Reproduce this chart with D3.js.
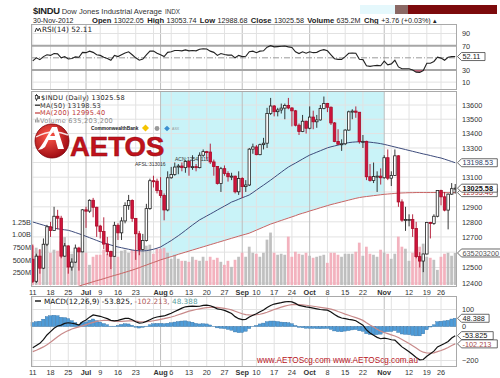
<!DOCTYPE html>
<html>
<head>
<meta charset="utf-8">
<script src="https://cdn.jsdelivr.net/npm/d3@7"></script>
<style>
  body { margin: 0; background: #fff; }
  svg { display: block; font-family: "Liberation Sans", Arial, sans-serif; }
</style>
</head>
<body>
<div id="chart"></div>
<script>
// Layout constants
const WIDTH = 500;
const HEIGHT = 378;
const PLOT = { left: 31, right: 457 };
const RSI_BOX = { top: 24, bottom: 89 };
const PRICE_BOX = { top: 91, bottom: 286 };
const MACD_BOX = { top: 296, bottom: 366 };
const MONO = '"DejaVu Sans", Verdana, sans-serif';

// Trading days shown (2012, mm-dd)
const dates = [
  '06-11','06-12','06-13','06-14','06-15','06-18','06-19','06-20','06-21','06-22',
  '06-25','06-26','06-27','06-28','06-29','07-02','07-03','07-05','07-06','07-09',
  '07-10','07-11','07-12','07-13','07-16','07-17','07-18','07-19','07-20','07-23',
  '07-24','07-25','07-26','07-27','07-30','07-31','08-01','08-02','08-03','08-06',
  '08-07','08-08','08-09','08-10','08-13','08-14','08-15','08-16','08-17','08-20',
  '08-21','08-22','08-23','08-24','08-27','08-28','08-29','08-30','08-31','09-04',
  '09-05','09-06','09-07','09-10','09-11','09-12','09-13','09-14','09-17','09-18',
  '09-19','09-20','09-21','09-24','09-25','09-26','09-27','09-28','10-01','10-02',
  '10-03','10-04','10-05','10-08','10-09','10-10','10-11','10-12','10-15','10-16',
  '10-17','10-18','10-19','10-22','10-23','10-24','10-25','10-26','10-31','11-01',
  '11-02','11-05','11-06','11-07','11-08','11-09','11-12','11-13','11-14','11-15',
  '11-16','11-19','11-20','11-21','11-23','11-26','11-27','11-28','11-29','11-30'];

const opens = [
  12554,12411,12574,12496,12652,12767,12742,12837,12824,12574,
  12641,12503,12535,12627,12602,12880,12871,12944,12897,12772,
  12736,12653,12605,12573,12777,12727,12806,12909,12943,12823,
  12721,12617,12676,12888,13076,13073,13009,12976,12879,13096,
  13118,13169,13176,13165,13208,13169,13172,13165,13250,13275,
  13272,13204,13173,13057,13158,13125,13103,13107,13001,13091,
  13036,13047,13292,13307,13254,13323,13333,13540,13593,13553,
  13565,13578,13597,13579,13559,13458,13414,13486,13437,13515,
  13482,13495,13575,13610,13584,13474,13345,13326,13329,13424,
  13552,13557,13549,13344,13346,13103,13077,13104,13107,13096,
  13233,13093,13112,13246,12933,12811,12815,12815,12756,12571,
  12542,12588,12796,12789,12837,13010,12967,12878,12985,13022.05];

const highs = [
  12650,12590,12620,12690,12780,12800,12900,12880,12840,12660,
  12645,12560,12650,12635,12885,12900,12950,12960,12900,12780,
  12830,12700,12610,12800,12790,12830,12930,12980,12950,12825,
  12740,12720,12920,13090,13110,13090,13100,12990,13140,13170,
  13200,13190,13200,13215,13210,13250,13190,13270,13290,13280,
  13330,13220,13175,13170,13180,13140,13130,13110,13140,13100,
  13080,13300,13330,13320,13330,13370,13580,13650,13600,13580,
  13610,13610,13650,13585,13565,13470,13530,13490,13590,13560,
  13530,13600,13660,13615,13590,13480,13430,13360,13430,13560,
  13570,13590,13550,13390,13350,13190,13200,13140,13160,13250,
  13290,13140,13290,13250,12950,12900,12850,12850,12800,12600,
  12590,12800,12800,12850,13010,13015,13000,12990,13060,13053.74];

const lows = [
  12400,12400,12460,12490,12640,12700,12740,12750,12560,12570,
  12460,12480,12530,12480,12600,12760,12860,12830,12700,12690,
  12620,12580,12490,12570,12680,12680,12790,12880,12800,12550,
  12580,12610,12670,12880,13030,12990,12960,12810,12870,13090,
  13110,13120,13140,13130,13110,13150,13140,13160,13240,13220,
  13190,13110,13050,13000,13110,13070,13080,12990,12980,12960,
  13000,13040,13260,13250,13250,13290,13300,13530,13520,13520,
  13540,13500,13570,13450,13450,13390,13410,13400,13430,13430,
  13440,13490,13570,13550,13460,13340,13320,13280,13320,13420,
  13500,13510,13330,13300,13080,13070,13060,13000,13050,13090,
  13080,13040,13110,12900,12800,12740,12770,12700,12560,12500,
  12470,12585,12690,12780,12830,12910,12870,12750,12980,12988.68];

const closes = [
  12411,12574,12496,12652,12767,12742,12837,12824,12574,12641,
  12503,12535,12627,12602,12880,12871,12944,12897,12772,12736,
  12653,12605,12573,12777,12727,12806,12909,12943,12823,12721,
  12617,12676,12888,13076,13073,13009,12976,12879,13096,13118,
  13169,13176,13165,13208,13169,13172,13165,13250,13275,13272,
  13204,13173,13057,13158,13125,13103,13107,13001,13091,13036,
  13047,13292,13307,13254,13323,13333,13540,13593,13553,13565,
  13578,13597,13579,13559,13458,13414,13486,13437,13515,13482,
  13495,13575,13610,13584,13474,13345,13326,13329,13424,13552,
  13557,13549,13344,13346,13103,13077,13104,13107,13096,13233,
  13093,13112,13246,12933,12811,12815,12815,12756,12571,12542,
  12588,12796,12789,12837,13010,12967,12878,12985,13022,13025.58];

// volume in millions
const volumes = [
  780,740,700,760,1000,640,700,680,860,950,
  640,620,600,720,860,640,400,560,600,600,
  700,620,640,580,560,680,700,640,700,680,
  720,680,780,800,620,720,720,740,640,520,
  600,520,480,480,460,560,500,480,560,480,
  560,500,540,460,400,480,360,500,560,640,
  560,760,640,620,560,640,900,1040,640,600,
  620,600,960,560,660,620,600,640,580,540,
  560,580,600,440,640,640,600,560,620,620,
  620,660,840,580,760,620,600,560,700,640,
  620,520,620,960,760,720,480,640,700,760,
  820,560,540,500,300,560,620,640,580,635.2];

const ma50 = [
  12799,12792,12785,12778,12771,12764,12758,12754,12750,12747,
  12744,12737,12729,12721,12713,12704,12695,12686,12677,12668,
  12661,12654,12647,12640,12634,12629,12624,12619,12614,12611,
  12609,12608,12610,12614,12619,12626,12634,12648,12662,12676,
  12692,12708,12725,12743,12761,12779,12796,12813,12826,12839,
  12852,12865,12879,12892,12905,12918,12932,12941,12951,12961,
  12970,12980,12996,13013,13030,13046,13063,13080,13098,13116,
  13134,13152,13169,13183,13196,13210,13224,13238,13251,13261,
  13271,13281,13291,13301,13308,13314,13320,13326,13332,13337,
  13340,13342,13343,13343,13342,13340,13337,13334,13330,13325,
  13319,13313,13307,13301,13295,13289,13283,13277,13271,13265,
  13259,13254,13248,13242,13236,13231,13223,13215,13207,13198.53];

const ma200 = [
  12290,12297,12304,12311,12318,12325,12332,12339,12346,12353,
  12360,12366,12373,12380,12387,12394,12401,12408,12415,12421,
  12428,12435,12442,12449,12455,12462,12469,12476,12483,12491,
  12499,12508,12516,12525,12533,12541,12550,12557,12564,12571,
  12578,12586,12593,12600,12607,12614,12621,12628,12635,12642,
  12649,12656,12663,12670,12677,12684,12691,12698,12705,12712,
  12718,12725,12735,12745,12755,12765,12775,12785,12793,12801,
  12809,12817,12825,12833,12841,12850,12857,12864,12872,12879,
  12886,12894,12901,12908,12915,12921,12927,12933,12939,12945,
  12951,12957,12962,12966,12969,12972,12975,12978,12981,12984,
  12986,12988,12990,12992,12993,12994,12995,12995,12996,12996,
  12996,12996,12996,12996,12996,12996,12995,12995,12995,12995.40];

const rsi = [
  45,50,47,52,55,54,57,56.5,50,52,
  48,49,51.5,51,59,58.5,61,59,55,54,
  51,49,46,54,52,55,58,60,55,50,
  46,48,55,61,61,57.5,55,52,59,60,
  62,62,61.5,63,61.5,62,61.5,64,65,64.5,
  61,59,54,57,55.5,54.5,54.5,50,54,52,
  52.5,60,61,58.5,61,61.5,67.5,70,68,68.5,
  69,69.5,68,67,60,57,60,57.5,60,58.5,
  59,62,63.5,61.5,55,48.5,47.5,47.5,52,57.5,
  58,57.5,47.5,47,37,36,37,37.5,37,44.5,
  38.5,40,46,35,32,32,32,30,26.5,26,
  29,41,41,44,51,49.5,46,51,52,52.11];

const macd = [
  -125,-112,-99,-77,-50,-30,-10,3,8,18,
  22,19,15,9,28,38,55,68,64,60,
  53,46,36,33,36,42,48,48,40,28,
  20,22,30,40,50,56,60,62,70,78,
  88,98,108,116,118,120,118,119,124,126,
  122,114,104,100,95,86,76,58,46,40,
  42,56,66,75,87,97,112,124,132,136,
  140,145,147,145,136,124,120,115,112,108,
  104,100,98,96,85,70,58,50,46,42,
  39,34,20,8,-20,-38,-52,-64,-72,-68,
  -72,-78,-80,-100,-120,-134,-148,-165,-182,-196,
  -194,-175,-160,-145,-120,-110,-100,-88,-68,-53.825];

const signal = [
  -148,-140,-130,-120,-108,-93,-76,-60,-46,-34,
  -24,-15,-8,-2,4,11,18,24,30,34,
  36,36,34,31,30,30,32,33,33,32,
  29,27,28,30,34,38,42,46,51,56,
  62,69,76,83,90,95,100,104,108,111,
  113,113,112,110,107,103,98,90,82,75,
  70,68,67,69,72,77,84,92,100,107,
  114,120,125,129,130,129,127,125,122,119,
  116,113,110,107,102,96,88,81,73,66,
  59,52,45,36,22,9,-3,-16,-27,-35,
  -42,-49,-56,-65,-76,-88,-100,-113,-127,-141,
  -151,-156,-157,-155,-148,-141,-133,-124,-112,-102.213];

const histogram = [
  23,28,31,43,58,63,66,63,54,52,
  46,34,23,11,24,27,37,44,34,26,
  17,10,2,2,6,12,16,15,7,-4,
  -9,-5,2,10,16,18,18,16,19,22,
  26,29,32,33,28,25,18,15,16,15,
  9,1,-8,-10,-12,-17,-22,-32,-36,-35,
  -28,-12,-1,6,15,20,28,32,32,29,
  26,25,22,16,6,-5,-7,-10,-10,-11,
  -12,-13,-12,-11,-17,-26,-30,-31,-27,-24,
  -20,-18,-25,-28,-42,-47,-49,-48,-45,-33,
  -30,-29,-24,-35,-44,-46,-48,-52,-55,-55,
  -43,-19,-3,10,28,31,33,36,44,48.388];

// Axis ticks and labels
const tickDates = ['06-11','06-18','06-25','07-02','07-09','07-16','07-23','08-01','08-06','08-13','08-20','08-27',
  '09-04','09-10','09-17','09-24','10-01','10-08','10-15','10-22','11-01','11-12','11-19','11-26'];
const tickLabels = ['11','18','25','Jul','9','16','23','Aug','6','13','20','27',
  'Sep','10','17','24','Oct','8','15','22','Nov','12','19','26'];
const monthLabels = ['Jul','Aug','Sep','Oct','Nov'];
const gridDates = tickDates.concat(['07-30','11-05']);
const priceGrid = [12400,12500,12600,12700,12800,12900,13000,13100,13200,13300,13400,13500,13600];
const priceTicks = [12400,12500,12700,12800,12900,13100,13300,13400,13500,13600];
const volTicks = [250,500,750,1000,1250];
const volTickLabels = ['250M','500M','750M','1.00B','1.25B'];
const rsiTicks = [10,30,70,90];
const macdGrid = [-200,-100,0,100];
const macdTicks = [-200,0,100];
const shadeFrom = '08-01';
const shadeTo = '11-01';

setup();

function setup () {
  const svg = d3.select('#chart').append('svg')
    .attr('width', WIDTH).attr('height', HEIGHT);

  const x = d3.scaleBand().domain(dates).range([PLOT.left, PLOT.right]);
  const cx = d => x(d) + x.bandwidth() / 2;
  const scales = {
    x, cx,
    price: d3.scaleLog().domain([12400, 13600]).range([283, 105]),
    vol: d3.scaleLinear().domain([0, 1250]).range([285, 222]),
    rsi: d3.scaleLinear().domain([0, 100]).range([88.2, 27.45]),
    macd: d3.scaleLinear().domain([0, 100]).range([326.5, 309.5])
  };

  const days = dates.map((d, i) => ({
    date: d, o: opens[i], h: highs[i], l: lows[i], c: closes[i], v: volumes[i],
    ma50: ma50[i], ma200: ma200[i], rsi: rsi[i],
    macd: macd[i], sig: signal[i], hist: histogram[i]
  }));

  const defs = svg.append('defs');
  defs.append('clipPath').attr('id', 'priceClip').append('rect')
    .attr('x', PLOT.left).attr('y', PRICE_BOX.top)
    .attr('width', PLOT.right - PLOT.left).attr('height', PRICE_BOX.bottom - PRICE_BOX.top);
  const grad = defs.append('radialGradient').attr('id', 'logoGrad').attr('cx', '40%').attr('cy', '35%').attr('r', '70%');
  grad.append('stop').attr('offset', '0%').attr('stop-color', '#ff5a4a');
  grad.append('stop').attr('offset', '100%').attr('stop-color', '#9a0610');

  drawHeader(svg);
  drawRsiPanel(svg, days, scales);
  drawPricePanel(svg, days, scales);
  drawMacdPanel(svg, days, scales);
  drawDateAxis(svg, scales, PRICE_BOX.bottom + 1);
  drawDateAxis(svg, scales, MACD_BOX.bottom + 1);
}

function styleAxis (g) {
  g.attr('font-size', 7.3).attr('font-family', '"Liberation Sans", Arial, sans-serif');
  g.select('.domain').remove();
  g.selectAll('text').attr('fill', '#333');
}

function drawGrid (svg, scales, box) {
  const g = svg.append('g');
  g.selectAll('line').data(gridDates).enter().append('line')
    .attr('x1', d => scales.cx(d)).attr('x2', d => scales.cx(d))
    .attr('y1', box.top).attr('y2', box.bottom)
    .attr('stroke', d => monthLabels.includes(tickLabels[tickDates.indexOf(d)]) ? '#bdbdbd' : '#e2e2e2')
    .attr('stroke-width', 1);
}

function drawFrame (svg, box) {
  svg.append('rect')
    .attr('x', PLOT.left + 0.5).attr('y', box.top + 0.5)
    .attr('width', PLOT.right - PLOT.left - 1).attr('height', box.bottom - box.top)
    .attr('fill', 'none').attr('stroke', '#a9a9a9');
}

function drawTag (svg, y, label, color, bold) {
  const w = label.length * 4.1 + 3;
  svg.append('path')
    .attr('d', `M${PLOT.right + 0.5},${y} l4,-4 h${w} v8 h${-w} z`)
    .attr('fill', '#fff').attr('stroke', '#444').attr('stroke-width', 0.8);
  svg.append('text')
    .attr('x', PLOT.right + 5.5).attr('y', y + 2.7)
    .attr('font-size', 7.3).attr('fill', color)
    .attr('font-weight', bold ? 'bold' : 'normal')
    .text(label);
}

function drawHeader (svg) {
  svg.append('rect').attr('x', 360).attr('y', 5).attr('width', 35).attr('height', 9).attr('fill', '#e5f8fc');
  svg.append('rect').attr('x', 395).attr('y', 5).attr('width', 13).attr('height', 9).attr('fill', '#8a6864');
  svg.append('rect').attr('x', 408).attr('y', 5).attr('width', 89).attr('height', 9).attr('fill', '#7c0a0c');

  const t1 = svg.append('text').attr('x', 33).attr('y', 14).attr('fill', '#222');
  t1.append('tspan').attr('font-size', 9.4).attr('font-weight', 'bold').attr('letter-spacing', -0.3).text('$INDU');
  t1.append('tspan').attr('dx', 2).attr('font-size', 7.6).attr('fill', '#333').text('Dow Jones Industrial Average');
  t1.append('tspan').attr('dx', 3).attr('font-size', 6.3).attr('fill', '#333').text('INDX');

  svg.append('text').attr('x', 33).attr('y', 22.5).attr('font-size', 7).attr('fill', '#222').text('30-Nov-2012');
  const items = [
    ['Open', '13022.05'], ['High', '13053.74'], ['Low', '12988.68'], ['Close', '13025.58'],
    ['Volume', '635.2M'], ['Chg', '+3.76 (+0.03%) \u25B4']
  ];
  const t2 = svg.append('text').attr('x', 92).attr('y', 22.5).attr('fill', '#222');
  items.forEach((it, i) => {
    t2.append('tspan').attr('dx', i === 0 ? 0 : 3.4).attr('font-size', 7.6).attr('font-weight', 'bold').text(it[0]);
    t2.append('tspan').attr('dx', 2.4).attr('font-size', 7.2).text(it[1]);
  });
}

function drawRsiPanel (svg, days, s) {
  const box = RSI_BOX;
  drawGrid(svg, s, box);
  const g = svg.append('g');
  [10, 90].forEach(v => g.append('line').attr('x1', PLOT.left).attr('x2', PLOT.right)
    .attr('y1', s.rsi(v)).attr('y2', s.rsi(v)).attr('stroke', '#e2e2e2'));
  [30, 70].forEach(v => g.append('line').attr('x1', PLOT.left).attr('x2', PLOT.right)
    .attr('y1', s.rsi(v)).attr('y2', s.rsi(v)).attr('stroke', '#a6a6a6').attr('stroke-width', 2));
  g.append('line').attr('x1', PLOT.left).attr('x2', PLOT.right)
    .attr('y1', s.rsi(50)).attr('y2', s.rsi(50))
    .attr('stroke', '#9a9a9a').attr('stroke-dasharray', '6,2,1,2');

  // oversold / overbought fills
  g.append('path').datum(days)
    .attr('d', d3.area().x(d => s.cx(d.date)).y0(s.rsi(30)).y1(d => s.rsi(Math.min(d.rsi, 30))))
    .attr('fill', '#c0506a').attr('opacity', 0.8);
  g.append('path').datum(days)
    .attr('d', d3.area().x(d => s.cx(d.date)).y0(s.rsi(70)).y1(d => s.rsi(Math.max(d.rsi, 70))))
    .attr('fill', '#5a8a5a').attr('opacity', 0.8);

  g.append('path').datum(days)
    .attr('d', d3.line().x(d => s.cx(d.date)).y(d => s.rsi(d.rsi)))
    .attr('fill', 'none').attr('stroke', '#222').attr('stroke-width', 1.1);

  drawFrame(svg, box);

  svg.append('g').attr('transform', `translate(${PLOT.right + 4},0)`)
    .call(d3.axisRight(s.rsi).tickValues(rsiTicks).tickSize(0).tickPadding(1))
    .call(styleAxis);
  drawTag(svg, s.rsi(rsi[rsi.length - 1]), '52.11', '#222', false);

  svg.append('path').attr('d', 'M35,32 l1.5,-4 l1.5,3 l1.5,-3 l1.5,4')
    .attr('fill', 'none').attr('stroke', '#222').attr('stroke-width', 0.9);
  svg.append('text').attr('x', 42).attr('y', 32).attr('font-size', 7.3)
    .attr('font-family', MONO).attr('fill', '#222').text('RSI(14) 52.11');
}

function drawPricePanel (svg, days, s) {
  const box = PRICE_BOX;
  const g = svg.append('g').attr('clip-path', 'url(#priceClip)');

  // shaded band above the MA(200)
  const i0 = dates.indexOf(shadeFrom);
  const i1 = dates.indexOf(shadeTo);
  g.append('path').datum(days.slice(i0, i1 + 1))
    .attr('d', d3.area().x(d => s.cx(d.date)).y0(box.top).y1(d => s.price(d.ma200)))
    .attr('fill', '#c9f3f8');

  // grid
  g.selectAll('line.h').data(priceGrid).enter().append('line')
    .attr('x1', PLOT.left).attr('x2', PLOT.right)
    .attr('y1', d => s.price(d)).attr('y2', d => s.price(d))
    .attr('stroke', '#e2e2e2');
  drawGrid(g, s, box);

  // volume overlay
  g.selectAll('rect.vol').data(days).enter().append('rect')
    .attr('x', d => s.x(d.date) + 0.3)
    .attr('width', s.x.bandwidth() - 0.8)
    .attr('y', d => s.vol(d.v))
    .attr('height', d => s.vol(0) - s.vol(d.v))
    .attr('fill', d => d.c < d.o ? '#f2aab7' : '#b9b9b9')
    .attr('opacity', 0.9);

  // moving averages
  g.append('path').datum(days)
    .attr('d', d3.line().x(d => s.cx(d.date)).y(d => s.price(d.ma200)))
    .attr('fill', 'none').attr('stroke', '#c86464').attr('stroke-width', 1);
  g.append('path').datum(days)
    .attr('d', d3.line().x(d => s.cx(d.date)).y(d => s.price(d.ma50)))
    .attr('fill', 'none').attr('stroke', '#3e4c7c').attr('stroke-width', 1);

  drawLogo(svg);

  // candles
  const bw = s.x.bandwidth() - 1;
  const candles = svg.append('g').selectAll('g').data(days).enter().append('g');
  candles.append('line')
    .attr('x1', d => s.cx(d.date)).attr('x2', d => s.cx(d.date))
    .attr('y1', d => s.price(d.h)).attr('y2', d => s.price(d.l))
    .attr('stroke', d => d.c < d.o ? '#b0102c' : '#222').attr('stroke-width', 0.9);
  candles.append('rect')
    .attr('x', d => s.cx(d.date) - bw / 2)
    .attr('width', bw)
    .attr('y', d => s.price(Math.max(d.o, d.c)))
    .attr('height', d => Math.max(1, s.price(Math.min(d.o, d.c)) - s.price(Math.max(d.o, d.c))))
    .attr('fill', d => d.c < d.o ? '#d0143c' : '#fff')
    .attr('stroke', d => d.c < d.o ? '#a80c28' : '#222')
    .attr('stroke-width', 0.8);

  drawFrame(svg, box);

  svg.append('g').attr('transform', `translate(${PLOT.right + 4},0)`)
    .call(d3.axisRight(s.price).tickValues(priceTicks).tickSize(0).tickPadding(1).tickFormat(d3.format('d')))
    .call(styleAxis);
  svg.append('g').attr('transform', `translate(${PLOT.left + 1},0)`)
    .call(d3.axisLeft(s.vol).tickValues(volTicks).tickSize(0).tickPadding(1)
      .tickFormat((d, i) => volTickLabels[i]))
    .call(styleAxis);

  const last = days[days.length - 1];
  drawTag(svg, s.price(last.ma50), '13198.53', '#2c3a66', false);
  drawTag(svg, s.price(last.ma200), '12995.40', '#b03030', false);
  drawTag(svg, s.price(last.c), '13025.58', '#111', true);
  drawTag(svg, s.vol(last.v), '635203200', '#555', false);

  // legend
  const lg = svg.append('g').attr('font-family', MONO).attr('font-size', 6.6).attr('letter-spacing', 0.25);
  lg.append('line').attr('x1', 36.5).attr('x2', 36.5).attr('y1', 94).attr('y2', 101).attr('stroke', '#222').attr('stroke-width', 0.8);
  lg.append('rect').attr('x', 35.3).attr('y', 95.5).attr('width', 2.4).attr('height', 3.5).attr('fill', '#fff').attr('stroke', '#222').attr('stroke-width', 0.7);
  lg.append('rect').attr('x', 38.3).attr('y', 96).attr('width', 1.5).attr('height', 3).attr('fill', '#222');
  lg.append('text').attr('x', 41).attr('y', 99.8).attr('fill', '#222').text('$INDU (Daily) 13025.58');
  lg.append('line').attr('x1', 35).attr('x2', 40).attr('y1', 105.2).attr('y2', 105.2).attr('stroke', '#222').attr('stroke-width', 1.2);
  lg.append('text').attr('x', 40).attr('y', 107.6).attr('fill', '#333').text('MA(50) 13198.53');
  lg.append('line').attr('x1', 35).attr('x2', 40).attr('y1', 113).attr('y2', 113).attr('stroke', '#c03838').attr('stroke-width', 1.2);
  lg.append('text').attr('x', 40).attr('y', 115.4).attr('fill', '#c03838').text('MA(200) 12995.40');
  [[35, 3], [36.6, 5], [38.2, 2.5]].forEach(b => lg.append('rect')
    .attr('x', b[0]).attr('y', 122.5 - b[1]).attr('width', 1.2).attr('height', b[1]).attr('fill', '#999'));
  lg.append('text').attr('x', 40).attr('y', 123.2).attr('fill', '#8c8c8c').text('Volume 635,203,200');
}

function drawLogo (svg) {
  const g = svg.append('g');
  g.append('circle').attr('cx', 52).attr('cy', 141).attr('r', 17)
    .attr('fill', 'url(#logoGrad)').attr('stroke', '#7a0008').attr('stroke-width', 0.8);
  g.append('path')
    .attr('d', 'M38,150 Q44,143 52,127 L57,127 L64,149 L58,149 L55.5,140 L48.5,140 L45,147 Q42,150 38,150 Z M50,136 L55,136 L53.5,131 Z')
    .attr('fill', '#fff').attr('fill-rule', 'evenodd');
  g.append('path').attr('d', 'M36,137 Q52,128 68,135').attr('fill', 'none')
    .attr('stroke', '#fff').attr('stroke-width', 1.4).attr('opacity', 0.85);
  g.append('text').attr('x', 70).attr('y', 155.5).attr('font-size', 27.5).attr('font-weight', 'bold')
    .attr('fill', '#c1121c').attr('stroke', '#8a0a10').attr('stroke-width', 0.5).text('AETOS');
  g.append('text').attr('x', 91).attr('y', 129.5).attr('font-size', 4.8).attr('font-weight', 'bold')
    .attr('fill', '#222').text('CommonwealthBank');
  g.append('rect').attr('x', 143).attr('y', 125.5).attr('width', 5).attr('height', 5)
    .attr('transform', 'rotate(45 145.5 128)').attr('fill', '#f5c400');
  g.append('circle').attr('cx', 157).attr('cy', 128.5).attr('r', 2.4).attr('fill', '#9a9a9a');
  g.append('rect').attr('x', 165).attr('y', 126.5).attr('width', 4).attr('height', 4)
    .attr('transform', 'rotate(45 167 128.5)').attr('fill', '#3a8fd0');
  g.append('text').attr('x', 172).attr('y', 130).attr('font-size', 3.6).attr('fill', '#999').text('ASX');
  g.append('text').attr('x', 135).attr('y', 165.5).attr('font-size', 5).attr('fill', '#333').text('AFSL:313016');
  g.append('text').attr('x', 175).attr('y', 161).attr('font-size', 5).attr('fill', '#333').text('ACN:125451117');
}

function drawMacdPanel (svg, days, s) {
  const box = MACD_BOX;
  drawGrid(svg, s, box);
  const g = svg.append('g');
  g.selectAll('line.h').data(macdGrid).enter().append('line')
    .attr('x1', PLOT.left).attr('x2', PLOT.right)
    .attr('y1', d => s.macd(d)).attr('y2', d => s.macd(d))
    .attr('stroke', '#e2e2e2');

  g.selectAll('rect').data(days).enter().append('rect')
    .attr('x', d => s.x(d.date))
    .attr('width', s.x.bandwidth() - 0.3)
    .attr('y', d => s.macd(Math.max(0, d.hist)))
    .attr('height', d => Math.abs(s.macd(0) - s.macd(d.hist)))
    .attr('fill', '#4f9cd8').attr('stroke', '#2f6ea4').attr('stroke-width', 0.4);

  svg.append('text').attr('x', 257).attr('y', 363).attr('font-size', 8.2)
    .attr('fill', '#b8141c').text('www.AETOScg.com');
  svg.append('text').attr('x', 333).attr('y', 363).attr('font-size', 8.2)
    .attr('fill', '#b8141c').text('www.AETOScg.com.au');

  g.append('path').datum(days)
    .attr('d', d3.line().x(d => s.cx(d.date)).y(d => s.macd(d.sig)))
    .attr('fill', 'none').attr('stroke', '#c88a8a').attr('stroke-width', 1.2);
  g.append('path').datum(days)
    .attr('d', d3.line().x(d => s.cx(d.date)).y(d => s.macd(d.macd)))
    .attr('fill', 'none').attr('stroke', '#111').attr('stroke-width', 1.2);

  drawFrame(svg, box);

  svg.append('g').attr('transform', `translate(${PLOT.right + 4},0)`)
    .call(d3.axisRight(s.macd).tickValues(macdTicks).tickSize(0).tickPadding(1))
    .call(styleAxis);
  const last = days[days.length - 1];
  drawTag(svg, s.macd(last.hist), '48.388', '#222', false);
  drawTag(svg, s.macd(last.macd), '-53.825', '#111', false);
  drawTag(svg, s.macd(last.sig), '-102.213', '#a84a4a', false);

  svg.append('line').attr('x1', 35).attr('x2', 41).attr('y1', 301).attr('y2', 301)
    .attr('stroke', '#111').attr('stroke-width', 1.4);
  const t = svg.append('text').attr('x', 44).attr('y', 303.5).attr('font-size', 7.3).attr('font-family', MONO);
  t.append('tspan').attr('fill', '#111').text('MACD(12,26,9) -53.825, ');
  t.append('tspan').attr('fill', '#b06060').text('-102.213, ');
  t.append('tspan').attr('fill', '#5a9e9e').text('48.388');
}

function drawDateAxis (svg, s, y) {
  svg.append('g').attr('transform', `translate(0,${y})`)
    .call(d3.axisBottom(s.x).tickValues(tickDates).tickSize(0).tickPadding(3)
      .tickFormat(d => tickLabels[tickDates.indexOf(d)]))
    .call(styleAxis)
    .selectAll('text')
    .attr('font-weight', d => monthLabels.includes(tickLabels[tickDates.indexOf(d)]) ? 'bold' : 'normal');
}
</script>
</body>
</html>
